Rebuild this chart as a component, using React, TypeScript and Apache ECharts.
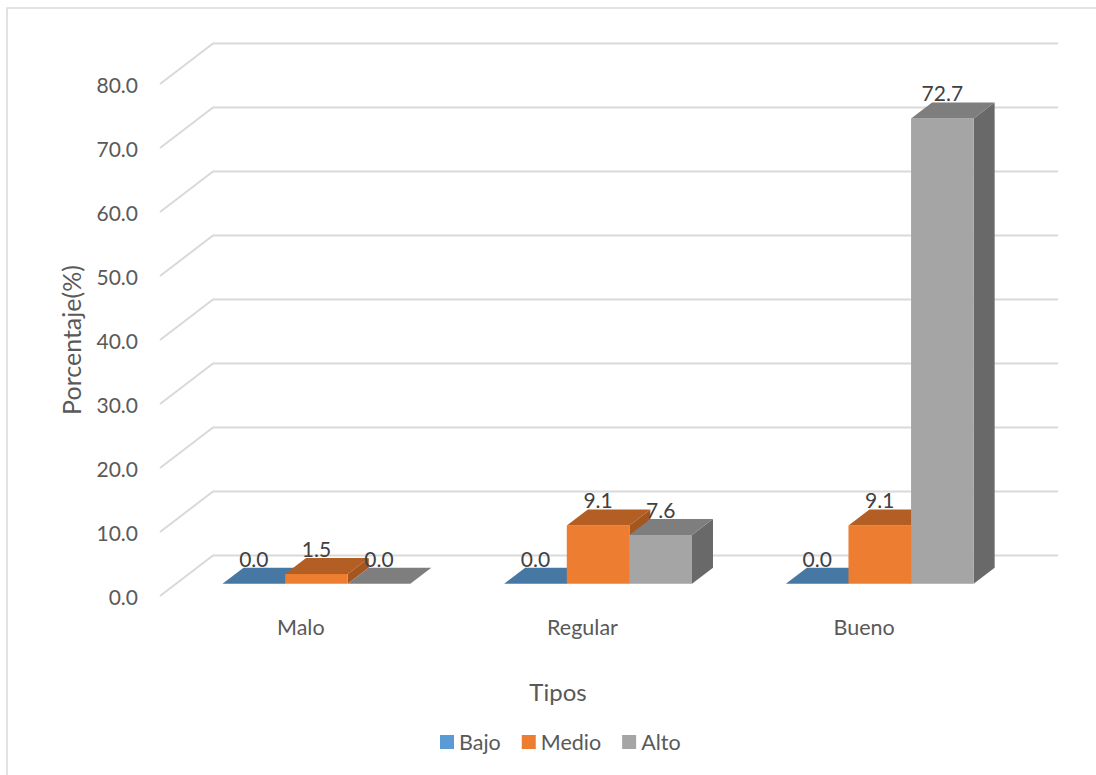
import React, { useEffect, useRef } from "react";
import * as echarts from "echarts";

const categories = ["Malo", "Regular", "Bueno"];
const bajo = [0.0, 0.0, 0.0];
const medio = [1.5, 9.1, 9.1];
const alto = [0.0, 7.6, 72.7];
const yTicks = [0, 10, 20, 30, 40, 50, 60, 70, 80];

const FONT = "Lato, 'Open Sans', sans-serif";

// Oblique projection of the 3D plot: wall depth and where the bars sit inside it.
const WALL_DX = 53;
const WALL_DY = 40.5;
const BAR_FRONT_DX = 15.6;
const BAR_FRONT_DY = 12.3;
const BAR_DX = 21;
const BAR_DY = 16;
const BAR_WIDTH_RATIO = 1 / 4.5;

const palette = [
  { front: "#5B9BD5", top: "#4777A3", side: "#3F6B93" },
  { front: "#ED7D31", top: "#B35E23", side: "#A5561F" },
  { front: "#A5A5A5", top: "#7E7E7E", side: "#696969" },
];

function wallSeries() {
  return {
    type: "custom",
    name: "walls",
    silent: true,
    z: 1,
    data: yTicks.map((t) => [0, t]),
    encode: { x: 0, y: 1 },
    renderItem: (params: any, api: any) => {
      const y = api.coord([0, api.value(1)])[1];
      const left = params.coordSys.x;
      const right = left + params.coordSys.width;
      return {
        type: "polyline",
        shape: {
          points: [
            [left, y],
            [left + WALL_DX, y - WALL_DY],
            [right + WALL_DX, y - WALL_DY],
          ],
        },
        style: { fill: "none", stroke: "#D9D9D9", lineWidth: 2 },
      };
    },
  };
}

function barSeries(name: string, values: number[], slot: number) {
  const c = palette[slot];
  return {
    type: "custom",
    name,
    z: 2,
    itemStyle: { color: c.front },
    data: values.map((v, i) => [i, v]),
    encode: { x: 0, y: 1 },
    renderItem: (_params: any, api: any) => {
      const cat = api.value(0);
      const value = api.value(1);
      const w = api.size([1, 0])[0] * BAR_WIDTH_RATIO;
      const [cx, zeroY] = api.coord([cat, 0]);
      const topRaw = api.coord([cat, value])[1];
      const x0 = cx + BAR_FRONT_DX + (slot - 1.5) * w;
      const x1 = x0 + w;
      const yB = zeroY - BAR_FRONT_DY;
      const yT = topRaw - BAR_FRONT_DY;
      const children: any[] = [];
      if (value > 0) {
        children.push({
          type: "polygon",
          shape: { points: [[x1, yB], [x1 + BAR_DX, yB - BAR_DY], [x1 + BAR_DX, yT - BAR_DY], [x1, yT]] },
          style: { fill: c.side },
        });
        children.push({
          type: "rect",
          shape: { x: x0, y: yT, width: w, height: yB - yT },
          style: { fill: c.front },
        });
      }
      children.push({
        type: "polygon",
        shape: { points: [[x0, yT], [x0 + BAR_DX, yT - BAR_DY], [x1 + BAR_DX, yT - BAR_DY], [x1, yT]] },
        style: { fill: c.top },
      });
      children.push({
        type: "text",
        z2: 100,
        style: {
          text: value.toFixed(1),
          x: (x0 + x1) / 2,
          y: yT - 25.5,
          align: "center",
          verticalAlign: "middle",
          fill: "#404040",
          fontFamily: FONT,
          fontSize: 21,
        },
      });
      return { type: "group", children };
    },
  };
}

export default function App() {
  const ref = useRef<HTMLDivElement>(null);

  useEffect(() => {
    const chart = echarts.init(ref.current!, undefined, { renderer: "svg" });
    chart.setOption({
      animation: false,
      backgroundColor: "#FFFFFF",
      textStyle: { fontFamily: FONT },
      grid: { left: 160, top: 84, width: 845, height: 512, containLabel: false },
      graphic: [
        {
          type: "rect",
          silent: true,
          z: 0,
          shape: { x: 7, y: 8, width: 1200, height: 900 },
          style: { fill: "none", stroke: "#D9D9D9", lineWidth: 1.5 },
        },
      ],
      legend: {
        data: ["Bajo", "Medio", "Alto"],
        left: 440,
        top: 731,
        padding: 0,
        icon: "rect",
        itemWidth: 14,
        itemHeight: 14,
        itemGap: 21,
        selectedMode: false,
        textStyle: { color: "#595959", fontSize: 21.5, fontFamily: FONT },
      },
      xAxis: {
        type: "category",
        data: categories,
        axisLine: { show: false },
        axisTick: { show: false },
        axisLabel: { color: "#595959", fontSize: 21.5, fontFamily: FONT, margin: 20 },
        name: "Tipos",
        nameLocation: "middle",
        nameGap: 83,
        nameTextStyle: { color: "#595959", fontSize: 24, fontFamily: FONT, padding: [0, 49, 0, 0] },
      },
      yAxis: {
        type: "value",
        min: 0,
        max: 80,
        interval: 10,
        axisLine: { show: false },
        axisTick: { show: false },
        splitLine: { show: false },
        axisLabel: {
          color: "#595959",
          fontSize: 21,
          fontFamily: FONT,
          margin: 22,
          padding: [6, 0, 0, 0],
          formatter: (v: number) => v.toFixed(1),
        },
        name: "Porcentaje(%)",
        nameLocation: "middle",
        nameGap: 77,
        nameTextStyle: { color: "#595959", fontSize: 25, fontFamily: FONT },
      },
      series: [wallSeries(), barSeries("Bajo", bajo, 0), barSeries("Medio", medio, 1), barSeries("Alto", alto, 2)],
    });
    return () => chart.dispose();
  }, []);

  return <div ref={ref} style={{ position: "absolute", left: 0, top: 0, width: 1096, height: 775 }} />;
}
